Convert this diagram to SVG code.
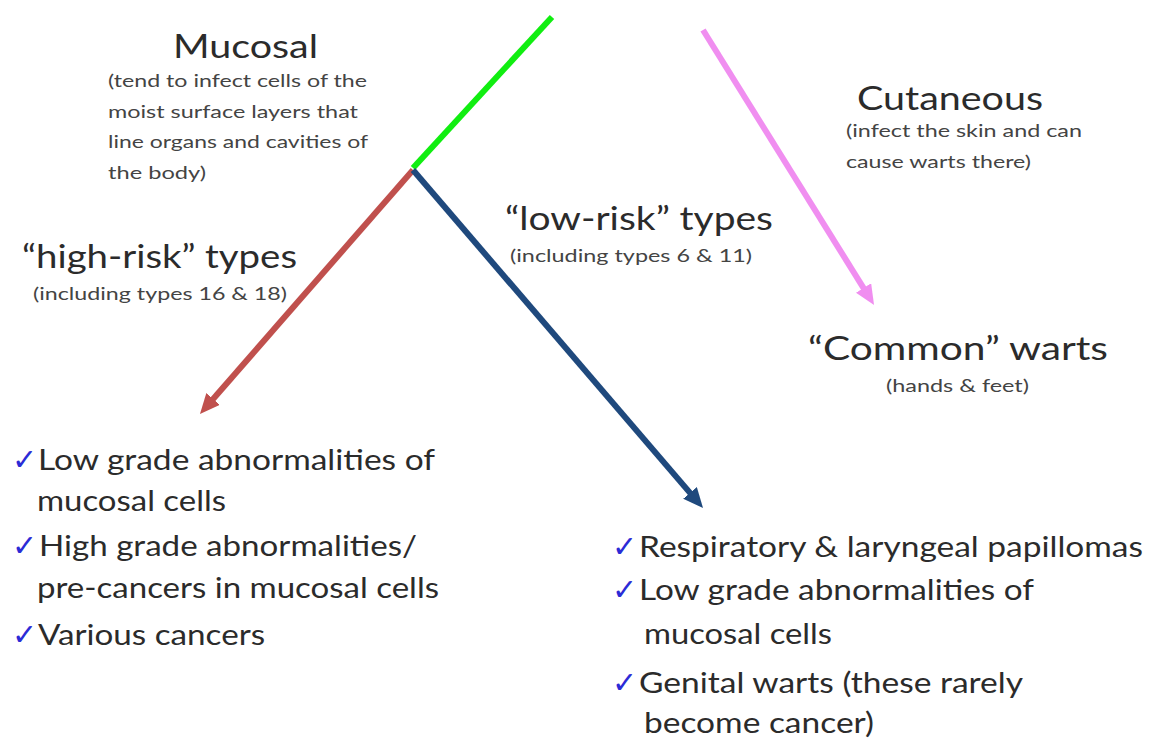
<svg xmlns="http://www.w3.org/2000/svg" width="1150" height="742" viewBox="0 0 1150 742">
<defs>
<style>
.t{font-family:Lato,"Open Sans","Liberation Sans",sans-serif;fill:#2b2b2b}
.h{font-size:33px}
.s{font-size:18px;fill:#444}
.b{font-size:29px}
.c{font-family:"DejaVu Sans",sans-serif;font-size:30px;fill:#2b2bd6}
.ln{fill:none;stroke-width:6}
</style>
<marker id="arR" viewBox="0 0 20 18" refX="4" refY="9" markerWidth="20" markerHeight="18" markerUnits="userSpaceOnUse" orient="auto"><path d="M0,0 L20,9 L0,18 z" fill="#c0504d"/></marker>
<marker id="arB" viewBox="0 0 20 18" refX="4" refY="9" markerWidth="20" markerHeight="18" markerUnits="userSpaceOnUse" orient="auto"><path d="M0,0 L20,9 L0,18 z" fill="#1f497d"/></marker>
<marker id="arP" viewBox="0 0 20 18" refX="4" refY="9" markerWidth="20" markerHeight="18" markerUnits="userSpaceOnUse" orient="auto"><path d="M0,0 L20,9 L0,18 z" fill="#f08ef0"/></marker>
</defs>
<rect width="1150" height="742" fill="#ffffff"/>
<g id="connectors">
<line class="ln" x1="552" y1="17" x2="413" y2="168" stroke="#11ee11"/>
<line class="ln" x1="413" y1="170" x2="210.5" y2="402" stroke="#c0504d" marker-end="url(#arR)"/>
<line class="ln" x1="413" y1="170" x2="692.6" y2="495.9" stroke="#1f497d" marker-end="url(#arB)"/>
<line class="ln" x1="703" y1="30" x2="865.6" y2="291.4" stroke="#f08ef0" marker-end="url(#arP)"/>
</g>
<g id="mucosal">
<text class="t h" x="173" y="58" textLength="145" lengthAdjust="spacingAndGlyphs">Mucosal</text>
<text class="t s" x="108" y="87" textLength="259" lengthAdjust="spacingAndGlyphs">(tend to infect cells of the</text>
<text class="t s" x="108" y="118" textLength="250" lengthAdjust="spacingAndGlyphs">moist surface layers that</text>
<text class="t s" x="108" y="148" textLength="260" lengthAdjust="spacingAndGlyphs">line organs and cavities of</text>
<text class="t s" x="108" y="179" textLength="98" lengthAdjust="spacingAndGlyphs">the body)</text>
</g>
<g id="cutaneous">
<text class="t h" x="857" y="110" textLength="186" lengthAdjust="spacingAndGlyphs">Cutaneous</text>
<text class="t s" x="846" y="137" textLength="236" lengthAdjust="spacingAndGlyphs">(infect the skin and can</text>
<text class="t s" x="846" y="168" textLength="185" lengthAdjust="spacingAndGlyphs">cause warts there)</text>
</g>
<g id="high-risk">
<text class="t h" x="22" y="268" textLength="275" lengthAdjust="spacingAndGlyphs">“high-risk” types</text>
<text class="t s" x="33" y="300" textLength="254" lengthAdjust="spacingAndGlyphs">(including types 16 &amp; 18)</text>
</g>
<g id="low-risk">
<text class="t h" x="505" y="230" textLength="268" lengthAdjust="spacingAndGlyphs">“low-risk” types</text>
<text class="t s" x="510" y="262" textLength="242" lengthAdjust="spacingAndGlyphs">(including types 6 &amp; 11)</text>
</g>
<g id="common-warts">
<text class="t h" x="808" y="360" textLength="300" lengthAdjust="spacingAndGlyphs">“Common” warts</text>
<text class="t s" x="886" y="392" textLength="143" lengthAdjust="spacingAndGlyphs">(hands &amp; feet)</text>
</g>
<g id="high-risk-outcomes">
<text class="c" x="12" y="470">✓</text>
<text class="t b" x="38" y="470" textLength="397" lengthAdjust="spacingAndGlyphs">Low grade abnormalities of</text>
<text class="t b" x="37" y="511" textLength="189" lengthAdjust="spacingAndGlyphs">mucosal cells</text>
<text class="c" x="12" y="556">✓</text>
<text class="t b" x="39" y="556" textLength="378" lengthAdjust="spacingAndGlyphs">High grade abnormalities/</text>
<text class="t b" x="37" y="598" textLength="402" lengthAdjust="spacingAndGlyphs">pre-cancers in mucosal cells</text>
<text class="c" x="12" y="645">✓</text>
<text class="t b" x="38" y="645" textLength="227" lengthAdjust="spacingAndGlyphs">Various cancers</text>
</g>
<g id="low-risk-outcomes">
<text class="c" x="612" y="557">✓</text>
<text class="t b" x="639" y="557" textLength="504" lengthAdjust="spacingAndGlyphs">Respiratory &amp; laryngeal papillomas</text>
<text class="c" x="612" y="600">✓</text>
<text class="t b" x="639" y="600" textLength="395" lengthAdjust="spacingAndGlyphs">Low grade abnormalities of</text>
<text class="t b" x="644" y="644" textLength="188" lengthAdjust="spacingAndGlyphs">mucosal cells</text>
<text class="c" x="612" y="693">✓</text>
<text class="t b" x="639" y="693" textLength="384" lengthAdjust="spacingAndGlyphs">Genital warts (these rarely</text>
<text class="t b" x="644" y="733" textLength="230" lengthAdjust="spacingAndGlyphs">become cancer)</text>
</g>
</svg>
